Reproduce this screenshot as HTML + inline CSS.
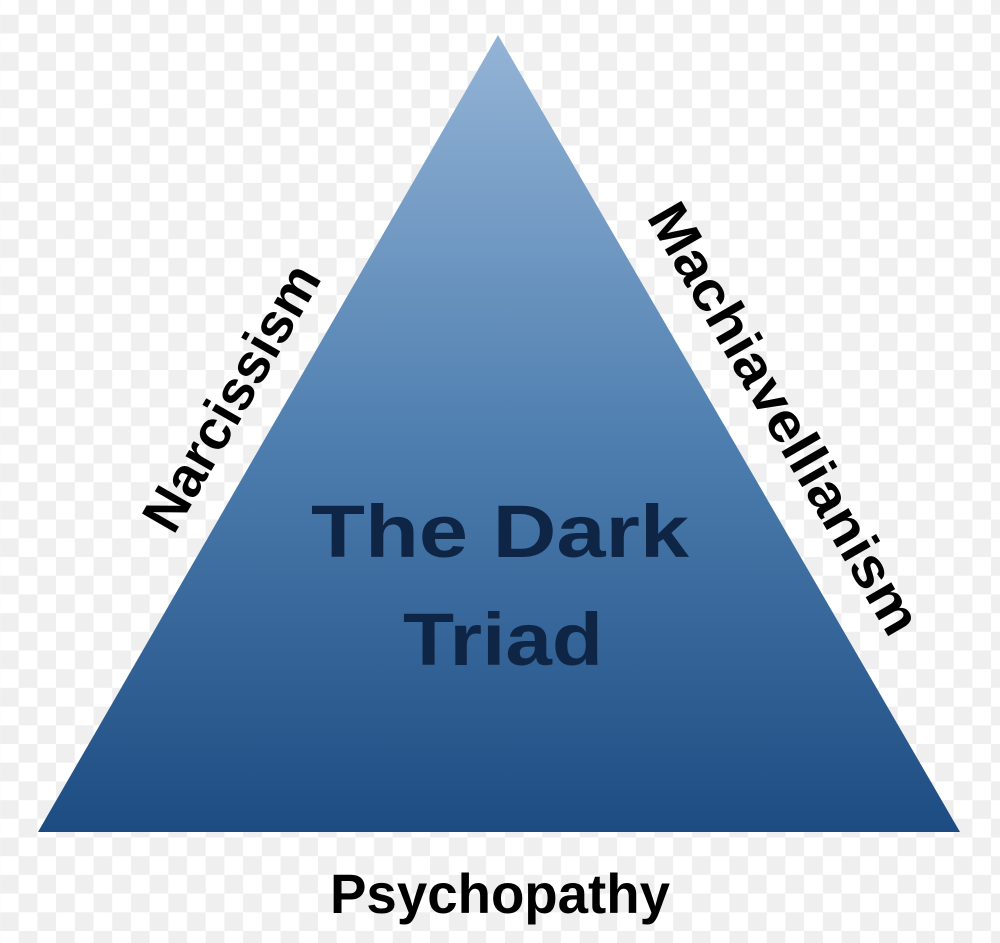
<!DOCTYPE html>
<html><head><meta charset="utf-8"><style>
html,body{margin:0;padding:0;width:1000px;height:943px;overflow:hidden;background:#fff}
</style></head><body>
<svg width="1000" height="943" viewBox="0 0 1000 943" xmlns="http://www.w3.org/2000/svg">
<defs>
<pattern id="ck" width="37.4" height="37.4" patternUnits="userSpaceOnUse" x="-18.7" y="-4">
<rect width="37.4" height="37.4" fill="#ffffff"/>
<rect width="18.7" height="18.7" fill="#efefef"/>
<rect x="18.7" y="18.7" width="18.7" height="18.7" fill="#efefef"/>
</pattern>
<linearGradient id="g" x1="0" y1="0" x2="0" y2="1">
<stop offset="0" stop-color="#94b4d6"/>
<stop offset="0.5" stop-color="#4f7fb0"/>
<stop offset="1" stop-color="#1d4c82"/>
</linearGradient>
</defs>
<rect width="1000" height="943" fill="url(#ck)"/>
<polygon points="498,35 38,832 960,832" fill="url(#g)"/>
<g font-family="Liberation Sans, sans-serif" font-weight="bold" fill="#0f2545" font-size="74" text-anchor="middle">
<text x="500" y="557" textLength="378" lengthAdjust="spacingAndGlyphs">The Dark</text>
<text x="503" y="665" textLength="200" lengthAdjust="spacingAndGlyphs">Triad</text>
</g>
<g font-family="Liberation Sans, sans-serif" font-weight="bold" fill="#000" font-size="56" text-anchor="middle">
<text transform="translate(248,407) rotate(-60)" textLength="298" lengthAdjust="spacingAndGlyphs">Narcissism</text>
<text transform="translate(768,428) rotate(60)" textLength="488" lengthAdjust="spacingAndGlyphs">Machiavellianism</text>
<text x="500" y="913" textLength="340" lengthAdjust="spacingAndGlyphs">Psychopathy</text>
</g>
</svg>
</body></html>
